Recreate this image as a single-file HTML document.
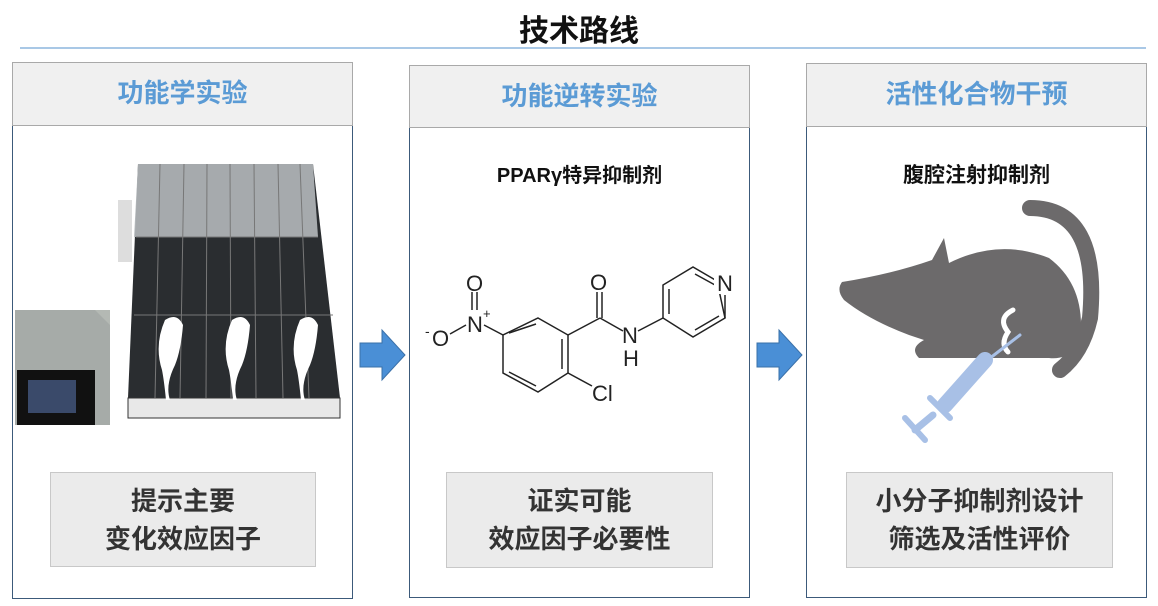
<!DOCTYPE html>
<html><head><meta charset="utf-8"><style>
body{margin:0;width:1158px;height:606px;background:#fff;position:relative;overflow:hidden;font-family:"Liberation Sans","Noto Sans CJK SC",sans-serif}
.a{position:absolute}
.hd{position:absolute;background:#f0f0f0;border:1.5px solid #a9a9a9;box-sizing:border-box;color:#5b9bd5;font-weight:bold;font-size:26px;text-align:center;line-height:60px}
.bd{position:absolute;border-left:1.5px solid #3c5a7a;border-right:1.5px solid #3c5a7a;border-bottom:1.5px solid #3c5a7a;box-sizing:border-box}
.bx{position:absolute;background:#ebebeb;border:1.5px solid #c8c8c8;box-sizing:border-box;font-weight:bold;font-size:26px;color:#333;text-align:center;line-height:38px;padding-top:9px}
.lb{position:absolute;font-weight:bold;font-size:20px;color:#111;text-align:center}
</style></head><body>
<div class="a" style="left:0;width:1158px;top:6px;text-align:center;font-size:30px;font-weight:bold;color:#111">技术路线</div>
<div class="a" style="left:20px;width:1126px;top:47px;height:2px;background:#a9c8e6"></div>

<div class="bd" style="left:12px;top:125px;width:341px;height:474px"></div>
<div class="hd" style="left:12px;top:62px;width:341px;height:64px">功能学实验</div>
<div class="bd" style="left:409px;top:126px;width:341px;height:472px"></div>
<div class="hd" style="left:409px;top:65px;width:341px;height:63px">功能逆转实验</div>
<div class="bd" style="left:806px;top:126px;width:341px;height:472px"></div>
<div class="hd" style="left:806px;top:63px;width:341px;height:64px">活性化合物干预</div>

<svg class="a" style="left:0;top:0" width="1158" height="606">
<polygon points="360,343 382,343 382,330 405,355 382,380 382,367 360,367" fill="#4a8fd6" stroke="#3a70a8"/>
<polygon points="757,343 779,343 779,330 802,355 779,380 779,367 757,367" fill="#4a8fd6" stroke="#3a70a8"/>
<!-- device -->
<polygon points="138,164 313,164 340,398 128,398" fill="#2a2d30"/>
<rect x="128" y="398" width="212" height="20" fill="#e8e8e8" stroke="#333"/>
<polygon points="138,164 313,164 318,237 134,237" fill="#b4b8bb" opacity="0.9"/>
<g stroke="#777" stroke-width="1">
<line x1="160" y1="164" x2="155" y2="398"/><line x1="184" y1="164" x2="180" y2="398"/><line x1="207" y1="164" x2="206" y2="398"/><line x1="230" y1="164" x2="231" y2="398"/><line x1="254" y1="164" x2="256" y2="398"/><line x1="278" y1="164" x2="283" y2="398"/><line x1="300" y1="164" x2="309" y2="398"/>
<line x1="134" y1="315" x2="333" y2="315"/><line x1="136" y1="237" x2="318" y2="237"/></g>
<rect x="118" y="200" width="14" height="62" fill="#ddd"/>
<path d="M165,320 q12,-8 18,5 q-2,25 -8,40 q-10,20 -5,35 l-4,0 q-2,-20 -4,-30 q-8,-25 3,-50z" fill="#fff"/>
<path d="M232,320 q12,-8 18,5 q-2,25 -8,40 q-10,20 -5,35 l-4,0 q-2,-20 -4,-30 q-8,-25 3,-50z" fill="#fff"/>
<path d="M300,320 q12,-8 18,5 q-2,25 -8,40 q-10,20 -5,35 l-4,0 q-2,-20 -4,-30 q-8,-25 3,-50z" fill="#fff"/>
<rect x="15" y="310" width="95" height="115" fill="#b4b9b4"/>
<polygon points="15,310 95,310 110,325 110,425 95,425 15,425" fill="#a6aba8"/>
<rect x="17" y="370" width="78" height="55" fill="#111"/>
<rect x="28" y="380" width="48" height="33" fill="#3a4a6a"/>
<!-- molecule -->
<g stroke="#222" stroke-width="1.5" fill="none">
<polygon points="538,318 568,335 568,373 538,392 503,373 503,335"/>
<line x1="509" y1="333" x2="536" y2="324"/><line x1="562" y1="339" x2="562" y2="369"/><line x1="509" y1="372" x2="536" y2="386"/>
<line x1="503" y1="335" x2="484" y2="325"/>
<line x1="472" y1="310" x2="472" y2="292"/><line x1="477" y1="310" x2="477" y2="292"/>
<line x1="466" y1="325" x2="450" y2="334"/>
<line x1="568" y1="335" x2="600" y2="318"/>
<line x1="597" y1="318" x2="597" y2="292"/><line x1="602" y1="318" x2="602" y2="292"/>
<line x1="600" y1="318" x2="623" y2="331"/>
<line x1="638" y1="331" x2="663" y2="318"/>
<line x1="568" y1="373" x2="592" y2="386"/>
<polygon points="663,318 663,285 693,267 717,281 725,318 693,337"/>
<line x1="669" y1="289" x2="669" y2="314"/><line x1="695" y1="274" x2="715" y2="285"/><line x1="695" y1="330" x2="719" y2="316"/>
</g>
<rect x="714" y="272" width="20" height="22" fill="#fff"/>
<line x1="725" y1="295" x2="725" y2="318" stroke="#222" stroke-width="1.5"/>
<g font-family="Liberation Sans,sans-serif" font-size="22" fill="#222">
<text x="466" y="291">O</text><text x="590" y="290">O</text><text x="467" y="332">N</text><text x="483" y="318" font-size="13">+</text>
<text x="432" y="346">O</text><text x="425" y="336" font-size="14">-</text>
<text x="622" y="343">N</text><text x="623" y="366">H</text><text x="592" y="401">Cl</text><text x="717" y="291">N</text>
</g>
<!-- mouse -->
<path d="M842,282 q50,-8 90,-22 l12,-22 l5,25 q50,-25 100,-5 q40,30 30,90 q-15,12 -30,10 l-30,0 l-100,0 q-10,-10 5,-18 l-15,-5 q-40,-15 -65,-35 q-8,-10 -2,-18z" fill="#6c6a6b"/>
<path d="M1030,208 q70,0 60,110 q-8,35 -30,52" stroke="#6c6a6b" stroke-width="16" fill="none" stroke-linecap="round"/>
<path d="M1013,310 q-16,8 -5,22 q-8,12 0,20" stroke="#fff" stroke-width="5" fill="none" stroke-linecap="round"/>
<g stroke="#a8c0e6" stroke-linecap="round">
<line x1="1020" y1="335" x2="985" y2="362" stroke-width="3"/>
<line x1="985" y1="360" x2="945" y2="405" stroke-width="16"/>
<line x1="930" y1="398" x2="950" y2="418" stroke-width="6"/>
<line x1="933" y1="415" x2="915" y2="430" stroke-width="7"/>
<line x1="905" y1="418" x2="925" y2="440" stroke-width="6"/>
</g>
</svg>

<div class="lb" style="left:409px;width:341px;top:159px">PPARγ特异抑制剂</div>
<div class="lb" style="left:806px;width:341px;top:159px;font-size:21px">腹腔注射抑制剂</div>

<div class="bx" style="left:50px;top:472px;width:266px;height:95px">提示主要<br>变化效应因子</div>
<div class="bx" style="left:446px;top:472px;width:267px;height:96px">证实可能<br>效应因子必要性</div>
<div class="bx" style="left:846px;top:472px;width:267px;height:96px">小分子抑制剂设计<br>筛选及活性评价</div>
</body></html>
